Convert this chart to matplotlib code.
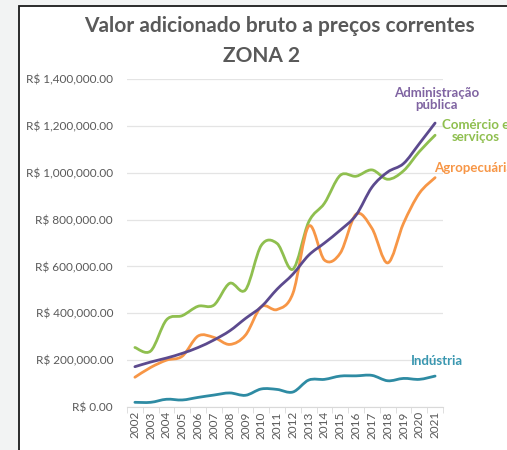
import matplotlib
matplotlib.use("Agg")
import matplotlib.pyplot as plt
from matplotlib.path import Path
from matplotlib.patches import PathPatch, Rectangle
import numpy as np

years = [str(y) for y in range(2002, 2022)]
comercio = [254000, 239000, 372000, 390000, 430000, 435000, 528000, 500000, 690000, 698000,
            588000, 790000, 870000, 989000, 985000, 1012000, 972000, 1008000, 1090000, 1160000]
administracao = [172000, 192000, 209000, 229000, 254000, 286000, 325000, 378000, 428000, 503000,
                 567000, 648000, 700000, 755000, 819000, 938000, 1003000, 1039000, 1124000, 1212000]
agropecuaria = [127000, 169000, 200000, 217000, 303000, 297000, 267000, 307000, 428000, 416000,
                485000, 772000, 627000, 657000, 823000, 763000, 615000, 784000, 912000, 979000]
industria = [20000, 20000, 33000, 30000, 41000, 51000, 60000, 50000, 77000, 75000,
             64000, 115000, 118000, 132000, 133000, 135000, 112000, 122000, 118000, 132000]
yticks = [0, 200000, 400000, 600000, 800000, 1000000, 1200000, 1400000]

FONT = ["Lato", "DejaVu Sans"]
plt.rcParams["font.family"] = FONT

fig = plt.figure(figsize=(5.07, 4.5), dpi=100)
fig.patch.set_facecolor("#f2f3f3")
fig.patches.append(Rectangle((19 / 507, -0.1), 2.0, 1 - 6 / 450 + 0.1, transform=fig.transFigure,
                             facecolor="white", edgecolor="#1a1a1a", linewidth=1.3, zorder=-5))

ax = fig.add_axes([127 / 507, 1 - 407 / 450, 316 / 507, 328 / 450])
ax.set_zorder(2)
ax.patch.set_alpha(0)
x = np.arange(len(years))


def smooth_path(xs, ys):
    pts = np.column_stack([xs, ys]).astype(float)
    n = len(pts)
    verts = [pts[0]]
    codes = [Path.MOVETO]
    for i in range(n - 1):
        p0 = pts[i - 1] if i > 0 else pts[i]
        p1 = pts[i]
        p2 = pts[i + 1]
        p3 = pts[i + 2] if i + 2 < n else pts[i + 1]
        c1 = p1 + (p2 - p0) / 6.0
        c2 = p2 - (p3 - p1) / 6.0
        verts += [c1, c2, p2]
        codes += [Path.CURVE4] * 3
    return Path(verts, codes)


series = [
    (comercio, "#8fbf4f"),
    (agropecuaria, "#f79646"),
    (industria, "#2e8ba3"),
    (administracao, "#5c4a8e"),
]
for vals, col in series:
    patch = PathPatch(smooth_path(x, vals), facecolor="none", edgecolor=col,
                      linewidth=2.0, capstyle="round", joinstyle="round", zorder=3)
    ax.add_patch(patch)

ax.set_xlim(-0.5, len(years) - 0.5)
ax.set_ylim(0, 1400000)
ax.set_yticks(yticks)
ax.set_yticklabels(["R$ {:,.2f}".format(v) for v in yticks])
ax.set_xticks(x)
ax.set_xticklabels(years, rotation=90)
ax.set_xticks(np.arange(-0.5, len(years), 1.0), minor=True)
ax.grid(axis="y", color="#e4e4e4", linewidth=0.9)
ax.set_axisbelow(True)
for s in ["top", "right", "left"]:
    ax.spines[s].set_visible(False)
ax.spines["bottom"].set_color("#d9d9d9")
ax.tick_params(axis="y", length=0, labelsize=8.5, labelcolor="#595959", pad=10)
ax.tick_params(axis="x", which="major", length=0, labelsize=8.5, labelcolor="#595959", pad=3)
ax.tick_params(axis="x", which="minor", length=4, color="#d9d9d9")

fig.text(279 / 507, 1 - 26 / 450, "Valor adicionado bruto a preços correntes", ha="center", va="center",
         fontsize=15, fontweight="bold", color="#595959")
fig.text(262 / 507, 1 - 56 / 450, "ZONA 2", ha="center", va="center",
         fontsize=15, fontweight="bold", color="#595959")

ax.annotate("Administração\npública", xy=(437, 450 - 99), xycoords="figure pixels",
            ha="center", va="center", fontsize=9.5, fontweight="bold", color="#8064a2",
            linespacing=1.0)
ax.annotate("Comércio e\nserviços", xy=(476, 450 - 131), xycoords="figure pixels",
            ha="center", va="center", fontsize=9.5, fontweight="bold", color="#8fbf4f",
            linespacing=1.0, annotation_clip=False)
ax.annotate("Agropecuária", xy=(434, 450 - 168), xycoords="figure pixels",
            ha="left", va="center", fontsize=9.5, fontweight="bold", color="#f79646",
            annotation_clip=False)
ax.annotate("Indústria", xy=(437, 450 - 361), xycoords="figure pixels",
            ha="center", va="center", fontsize=9.5, fontweight="bold", color="#3a97b0")

fig.savefig("out.png", dpi=100, facecolor=fig.get_facecolor())
